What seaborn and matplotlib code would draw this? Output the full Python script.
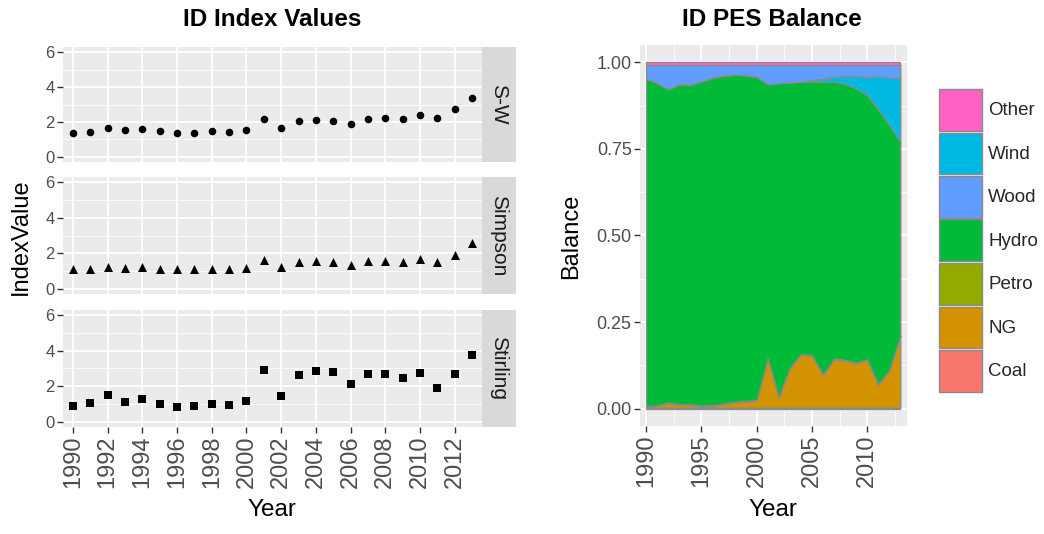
import matplotlib
matplotlib.use("Agg")
import matplotlib.pyplot as plt
import seaborn as sns
import pandas as pd
from matplotlib.patches import Patch

# ---------------- data ----------------
years = [1990, 1991, 1992, 1993, 1994, 1995, 1996, 1997, 1998, 1999, 2000, 2001,
         2002, 2003, 2004, 2005, 2006, 2007, 2008, 2009, 2010, 2011, 2012, 2013]

sw_values = [1.38, 1.44, 1.63, 1.51, 1.57, 1.48, 1.38, 1.38, 1.48, 1.44, 1.51, 2.16,
             1.63, 2.03, 2.09, 2.05, 1.90, 2.16, 2.22, 2.15, 2.39, 2.20, 2.72, 3.39]
simpson_values = [1.11, 1.13, 1.25, 1.15, 1.21, 1.11, 1.09, 1.09, 1.13, 1.11, 1.17, 1.61,
                  1.23, 1.51, 1.57, 1.53, 1.36, 1.57, 1.57, 1.53, 1.65, 1.51, 1.90, 2.59]
stirling_values = [0.86, 1.08, 1.51, 1.12, 1.30, 1.00, 0.82, 0.86, 1.02, 0.95, 1.17, 2.90,
                   1.47, 2.62, 2.88, 2.79, 2.12, 2.70, 2.70, 2.49, 2.75, 1.90, 2.71, 3.74]

facet_labels = ["S-W", "Simpson", "Stirling"]
left_xticks = [1990, 1992, 1994, 1996, 1998, 2000, 2002, 2004, 2006, 2008, 2010, 2012]
left_yticks = [0, 2, 4, 6]

# PES balance shares (stacked bottom -> top)
coal = [0.003] * 24
ng = [0.002, 0.005, 0.013, 0.008, 0.008, 0.004, 0.005, 0.010, 0.015, 0.018, 0.020, 0.142,
      0.030, 0.114, 0.153, 0.150, 0.094, 0.140, 0.136, 0.128, 0.138, 0.066, 0.107, 0.206]
petro = [0.002] * 24
hydro = [0.946, 0.930, 0.904, 0.924, 0.922, 0.936, 0.945, 0.947, 0.944, 0.940, 0.933, 0.790,
         0.905, 0.823, 0.786, 0.790, 0.845, 0.799, 0.797, 0.792, 0.762, 0.794, 0.708, 0.559]
wind = [0.0, 0.0, 0.0, 0.0, 0.0, 0.0, 0.0, 0.0, 0.0, 0.0, 0.0, 0.0,
        0.0, 0.0, 0.0, 0.004, 0.008, 0.014, 0.022, 0.035, 0.050, 0.095, 0.135, 0.185]
wood = [0.040, 0.053, 0.071, 0.056, 0.058, 0.048, 0.038, 0.031, 0.029, 0.030, 0.035, 0.056,
        0.053, 0.051, 0.049, 0.044, 0.041, 0.035, 0.033, 0.033, 0.038, 0.033, 0.038, 0.038]
other = [0.007] * 24

fuel_names = ["Coal", "NG", "Petro", "Hydro", "Wind", "Wood", "Other"]
fuel_colors = {"Coal": "#F8766D", "NG": "#D39200", "Petro": "#93AA00", "Hydro": "#00BA38",
               "Wood": "#619CFF", "Wind": "#00B9E3", "Other": "#FF61C3"}
legend_order = ["Other", "Wind", "Wood", "Hydro", "Petro", "NG", "Coal"]
right_xticks = [1990, 1995, 2000, 2005, 2010]
right_yticks = [0.0, 0.25, 0.5, 0.75, 1.0]

# ---------------- style ----------------
sns.set_theme(style="darkgrid", rc={
    "axes.facecolor": "#EBEBEB",
    "grid.color": "white",
    "axes.edgecolor": "none",
})
plt.rcParams["font.family"] = ["Liberation Sans", "DejaVu Sans"]

W, H = 1044, 534
fig = plt.figure(figsize=(W / 100, H / 100), dpi=100)
fig.patch.set_facecolor("white")


def px_axes(x0, y0, x1, y1):
    return fig.add_axes([x0 / W, 1 - y1 / H, (x1 - x0) / W, (y1 - y0) / H])


TICK_COL = "#4D4D4D"

df = pd.DataFrame({
    "Year": years * 3,
    "IndexValue": sw_values + simpson_values + stirling_values,
    "Index": ["S-W"] * 24 + ["Simpson"] * 24 + ["Stirling"] * 24,
})
markers = {"S-W": "o", "Simpson": "^", "Stirling": "s"}
msize = {"S-W": 30, "Simpson": 42, "Stirling": 36}

panel_rows = [(47, 162), (177, 294), (310, 427)]
for i, (lab, (y0, y1)) in enumerate(zip(facet_labels, panel_rows)):
    ax = px_axes(63, y0, 482, y1)
    sub = df[df["Index"] == lab]
    sns.scatterplot(data=sub, x="Year", y="IndexValue", marker=markers[lab],
                    color="black", s=msize[lab], linewidth=0, ax=ax, legend=False)
    ax.set_xlim(1989.43, 2013.57)
    ax.set_ylim(-0.3, 6.3)
    ax.set_yticks(left_yticks)
    ax.set_yticks([1, 3, 5], minor=True)
    ax.set_xticks(left_xticks)
    ax.grid(which="major", color="white", linewidth=1.3)
    ax.grid(which="minor", axis="y", color="white", linewidth=0.6)
    ax.set_xlabel("")
    ax.set_ylabel("")
    ax.tick_params(axis="y", which="major", length=4, width=1, color="#333333",
                   labelsize=12, labelcolor=TICK_COL, pad=2, left=True)
    ax.tick_params(axis="y", which="minor", length=0)
    if i == 2:
        ax.tick_params(axis="x", length=4, width=1, color="#333333", labelsize=17,
                       labelcolor=TICK_COL, labelrotation=90, pad=2, bottom=True)
    else:
        ax.tick_params(axis="x", length=0, labelbottom=False)
    for s in ax.spines.values():
        s.set_visible(False)
    # strip
    sax = px_axes(482, y0, 516, y1)
    sax.set_facecolor("#D9D9D9")
    sax.set_xticks([])
    sax.set_yticks([])
    sax.grid(False)
    for s in sax.spines.values():
        s.set_visible(False)
    sax.text(0.5, 0.5, lab, rotation=-90, ha="center", va="center", fontsize=15,
             color="#1A1A1A", transform=sax.transAxes)

fig.text(272 / W, 1 - 19 / H, "ID Index Values", ha="center", va="center",
         fontsize=17.5, fontweight="bold", color="black")
fig.text(272 / W, 1 - 510 / H, "Year", ha="center", va="center", fontsize=17.5, color="black")
fig.text(21 / W, 1 - 237 / H, "IndexValue", ha="center", va="center", rotation=90,
         fontsize=17, color="black")

# ---------------- right panel ----------------
axr = px_axes(640, 45, 907, 426)
series = [coal, ng, petro, hydro, wind, wood, other]
axr.stackplot(years, *series, colors=[fuel_colors[n] for n in fuel_names],
              edgecolor="#8A8A8A", linewidth=0.9)
axr.set_xlim(1989.45, 2013.6)
axr.set_ylim(-0.05, 1.05)
axr.set_xticks(right_xticks)
axr.set_xticks([1992.5, 1997.5, 2002.5, 2007.5, 2012.5], minor=True)
axr.set_yticks(right_yticks)
axr.set_yticks([0.125, 0.375, 0.625, 0.875], minor=True)
axr.set_yticklabels(["0.00", "0.25", "0.50", "0.75", "1.00"])
axr.grid(which="major", color="white", linewidth=1.3)
axr.grid(which="minor", color="white", linewidth=0.6)
axr.set_axisbelow(True)
axr.tick_params(axis="y", which="major", length=4, width=1, color="#333333",
                labelsize=13, labelcolor=TICK_COL, pad=2, left=True)
axr.tick_params(axis="x", which="major", length=4, width=1, color="#333333",
                labelsize=17, labelcolor=TICK_COL, labelrotation=90, pad=2, bottom=True)
axr.tick_params(which="minor", length=0)
for s in axr.spines.values():
    s.set_visible(False)

fig.text(772 / W, 1 - 19 / H, "ID PES Balance", ha="center", va="center",
         fontsize=17.5, fontweight="bold", color="black")
fig.text(773 / W, 1 - 510 / H, "Year", ha="center", va="center", fontsize=17.5, color="black")
fig.text(571 / W, 1 - 236 / H, "Balance", ha="center", va="center", rotation=90,
         fontsize=17, color="black")

handles = [Patch(facecolor=fuel_colors[n], edgecolor="#8A8A8A", linewidth=1) for n in legend_order]
fs = 13.5
fs_pt_to_px = 100 / 72
key_h_pt = 41.5 / fs_pt_to_px
hh = (key_h_pt / fs - 0.245) / 0.65
fig.legend(handles, legend_order, loc="upper left",
           bbox_to_anchor=(939 / W, 1 - 89 / H), frameon=False, fontsize=fs,
           handlelength=(43 / fs_pt_to_px) / fs, handleheight=hh,
           labelspacing=(2.0 / fs_pt_to_px) / fs,
           handletextpad=(6 / fs_pt_to_px) / fs, borderpad=0, borderaxespad=0)

fig.savefig("out.png", dpi=100, facecolor="white")
